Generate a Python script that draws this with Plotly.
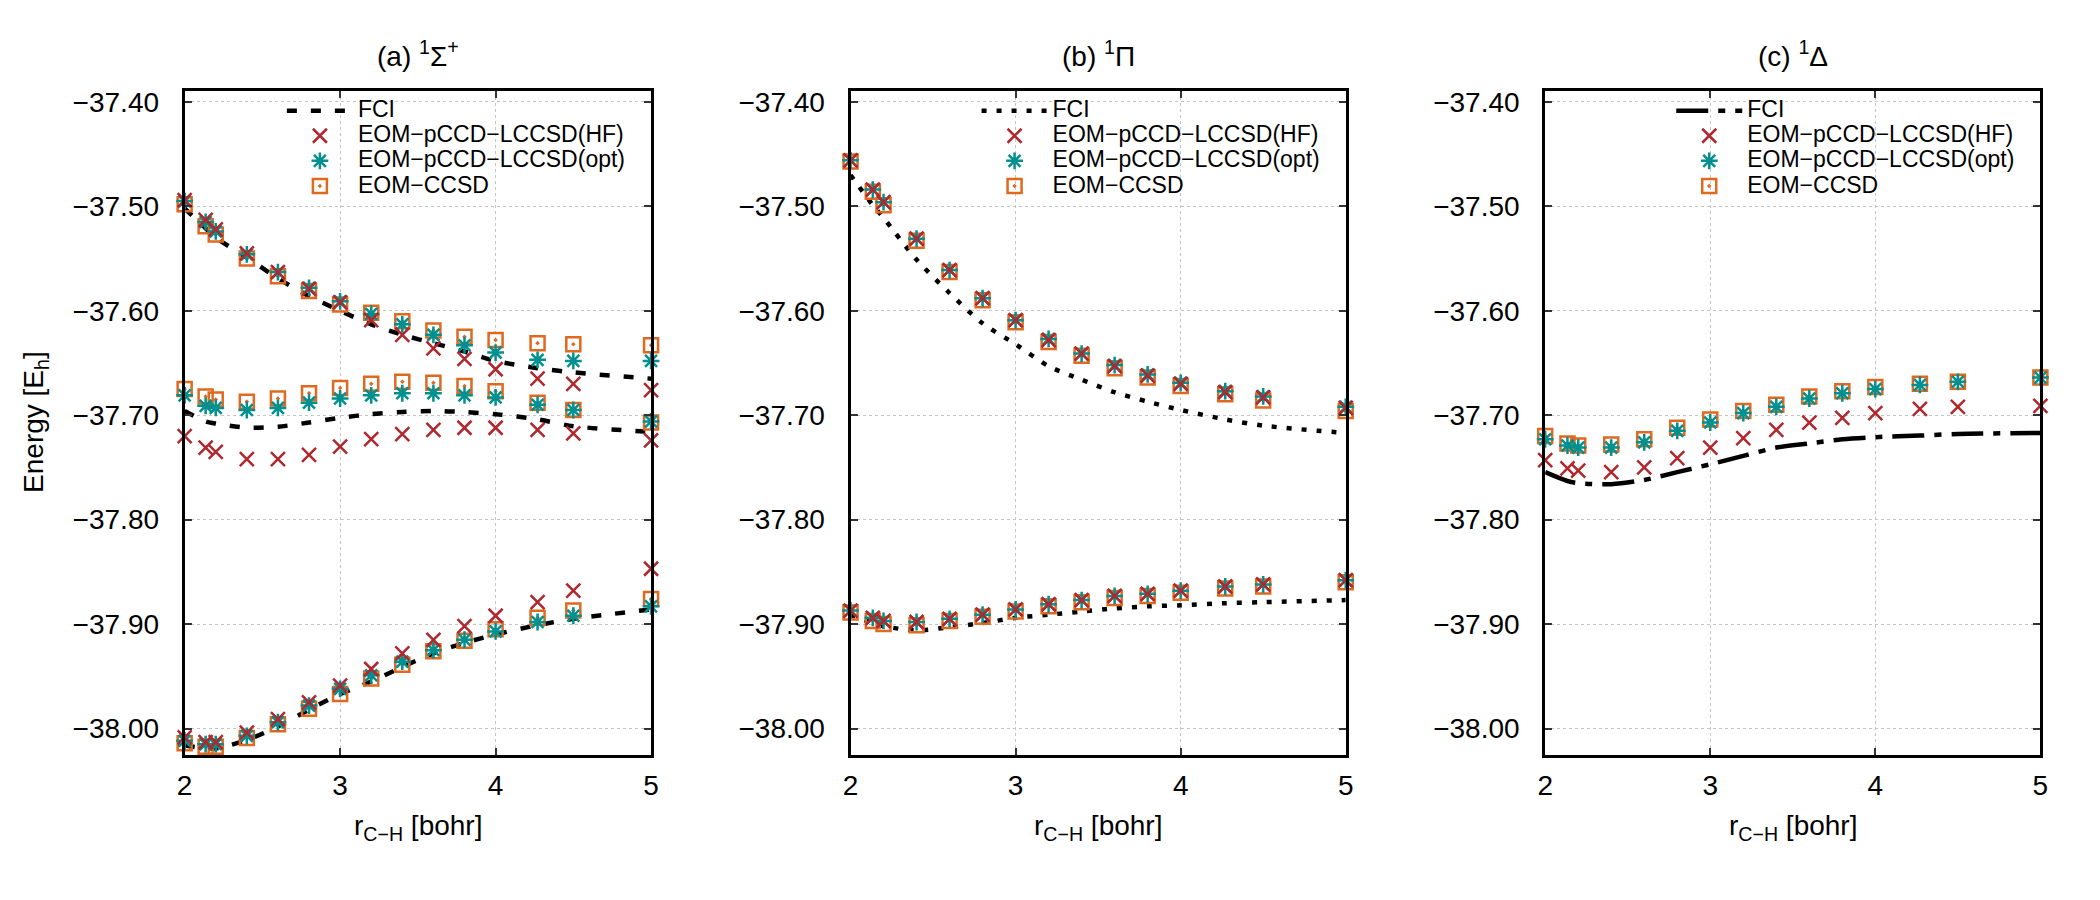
import plotly.graph_objects as go

# ---------------- data ----------------
r = [2.0, 2.135, 2.2, 2.4, 2.6, 2.8, 3.0, 3.2, 3.4, 3.6, 3.8, 4.0, 4.27, 4.5, 5.0]

# (a) 1Sigma+ : three states (upper, middle, lower)
fci_a_up  = [-37.502, -37.521, -37.530, -37.549, -37.569, -37.586, -37.600, -37.613, -37.623, -37.631, -37.639, -37.648, -37.655, -37.659, -37.665]
fci_a_mid = [-37.696, -37.706, -37.708, -37.712, -37.711, -37.707, -37.7025, -37.699, -37.697, -37.696, -37.697, -37.699, -37.704, -37.7105, -37.716]
fci_a_low = [-38.016, -38.019, -38.019, -38.011, -37.998, -37.982, -37.967, -37.955, -37.941, -37.928, -37.918, -37.910, -37.901, -37.895, -37.886]

hf_a_up   = [-37.494, -37.513, -37.522, -37.545, -37.563, -37.579, -37.592, -37.609, -37.623, -37.636, -37.646, -37.656, -37.665, -37.670, -37.676]
hf_a_mid  = [-37.720, -37.731, -37.735, -37.742, -37.742, -37.738, -37.730, -37.723, -37.718, -37.714, -37.712, -37.712, -37.714, -37.7175, -37.724]
hf_a_low  = [-38.0085, -38.013, -38.013, -38.004, -37.991, -37.975, -37.959, -37.943, -37.928, -37.915, -37.902, -37.892, -37.879, -37.868, -37.847]

opt_a_up  = [-37.495, -37.515, -37.524, -37.546, -37.563, -37.578, -37.591, -37.603, -37.613, -37.623, -37.633, -37.640, -37.647, -37.648, -37.648]
opt_a_mid = [-37.681, -37.691, -37.693, -37.695, -37.693, -37.688, -37.684, -37.681, -37.679, -37.679, -37.681, -37.683, -37.690, -37.695, -37.706]
opt_a_low = [-38.0117, -38.015, -38.015, -38.007, -37.994, -37.978, -37.962, -37.949, -37.936, -37.925, -37.915, -37.907, -37.898, -37.892, -37.883]

cc_a_up   = [-37.498, -37.519, -37.527, -37.550, -37.567, -37.581, -37.594, -37.602, -37.610, -37.619, -37.625, -37.628, -37.631, -37.632, -37.633]
cc_a_mid  = [-37.675, -37.682, -37.685, -37.687, -37.684, -37.679, -37.674, -37.670, -37.668, -37.669, -37.672, -37.677, -37.688, -37.695, -37.707]
cc_a_low  = [-38.014, -38.0175, -38.0175, -38.009, -37.996, -37.981, -37.967, -37.952, -37.939, -37.926, -37.916, -37.905, -37.894, -37.887, -37.876]

# (b) 1Pi : two states
fci_b_up  = [-37.470, -37.499, -37.511, -37.551, -37.583, -37.612, -37.632, -37.653, -37.666, -37.678, -37.687, -37.695, -37.704, -37.710, -37.717]
fci_b_low = [-37.891, -37.899, -37.902, -37.906, -37.903, -37.899, -37.894, -37.891, -37.888, -37.885, -37.883, -37.882, -37.880, -37.879, -37.877]

hf_b_up   = [-37.456, -37.484, -37.496, -37.531, -37.561, -37.588, -37.609, -37.628, -37.641, -37.653, -37.662, -37.670, -37.678, -37.683, -37.693]
hf_b_low  = [-37.887, -37.894, -37.897, -37.898, -37.895, -37.891, -37.886, -37.881, -37.877, -37.873, -37.871, -37.868, -37.864, -37.862, -37.858]
opt_b_up  = [-37.456, -37.484, -37.496, -37.531, -37.561, -37.588, -37.609, -37.627, -37.641, -37.652, -37.661, -37.669, -37.677, -37.682, -37.692]
opt_b_low = [-37.887, -37.894, -37.897, -37.898, -37.895, -37.891, -37.886, -37.881, -37.877, -37.873, -37.871, -37.868, -37.864, -37.862, -37.858]
cc_b_up   = [-37.457, -37.486, -37.499, -37.533, -37.563, -37.590, -37.611, -37.630, -37.643, -37.655, -37.664, -37.672, -37.680, -37.686, -37.696]
cc_b_low  = [-37.889, -37.897, -37.900, -37.901, -37.897, -37.893, -37.888, -37.883, -37.879, -37.875, -37.873, -37.870, -37.866, -37.864, -37.860]

# (c) 1Delta : one state
fci_c = [-37.7545, -37.763, -37.765, -37.766, -37.762, -37.7545, -37.747, -37.739, -37.731, -37.727, -37.723, -37.721, -37.7195, -37.718, -37.717]
hf_c  = [-37.743, -37.751, -37.753, -37.7545, -37.750, -37.741, -37.731, -37.722, -37.714, -37.707, -37.7025, -37.698, -37.694, -37.692, -37.691]
opt_c = [-37.723, -37.729, -37.731, -37.731, -37.726, -37.715, -37.707, -37.698, -37.692, -37.684, -37.679, -37.675, -37.671, -37.668, -37.664]
cc_c  = [-37.720, -37.727, -37.729, -37.728, -37.723, -37.712, -37.704, -37.696, -37.690, -37.682, -37.677, -37.673, -37.670, -37.668, -37.664]

panel_titles = ["(a) <sup>1</sup>Σ<sup>+</sup>", "(b) <sup>1</sup>Π", "(c) <sup>1</sup>Δ"]
series_names = ["FCI", "EOM−pCCD−LCCSD(HF)", "EOM−pCCD−LCCSD(opt)", "EOM−CCSD"]
y_ticks = [-38.00, -37.90, -37.80, -37.70, -37.60, -37.50, -37.40]
x_ticks = [2, 3, 4, 5]

panels = [
    dict(fci=[fci_a_up, fci_a_mid, fci_a_low], hf=[hf_a_up, hf_a_mid, hf_a_low],
         opt=[opt_a_up, opt_a_mid, opt_a_low], cc=[cc_a_up, cc_a_mid, cc_a_low], dash="10px,14px"),
    dict(fci=[fci_b_up, fci_b_low], hf=[hf_b_up, hf_b_low],
         opt=[opt_b_up, opt_b_low], cc=[cc_b_up, cc_b_low], dash="5px,10px"),
    dict(fci=[fci_c], hf=[hf_c], opt=[opt_c], cc=[cc_c], dash="32px,10px,7px,10px"),
]

# ---------------- styling ----------------
W, H = 2100, 900
FONT = "Liberation Sans, Arial, sans-serif"
RED, TEAL, ORANGE = "#b0282e", "#00908f", "#e0691f"
frames = [(178, 648), (849, 1348), (1549, 2048)]
y_top_px, y_bot_px = 87.3, 754.0
y_range = [-38.025, -37.3895]
LEG_TXT = 23


def join(states):
    xs, ys = [], []
    for k, s in enumerate(states):
        if k:
            xs.append(None); ys.append(None)
        xs.extend(r); ys.extend(s)
    return xs, ys


def legname(nm):
    return '<span style="font-size:%dpx">%s</span>' % (LEG_TXT, nm)


fig = go.Figure()
layout = dict(width=W, height=H, margin=dict(l=0, r=0, t=0, b=0),
              paper_bgcolor="white", plot_bgcolor="white", showlegend=True,
              font=dict(family=FONT, color="black"))
annotations = []

for i, p in enumerate(panels):
    sfx = "" if i == 0 else str(i + 1)
    xa, ya = "x" + sfx, "y" + sfx
    leg = "legend" + sfx
    x0, x1 = frames[i]

    xs, ys = join(p["fci"])
    fig.add_trace(go.Scatter(x=xs, y=ys, mode="lines", name=legname(series_names[0]),
                             line=dict(color="black", width=4.5, dash=p["dash"], shape="spline", smoothing=0.8),
                             xaxis=xa, yaxis=ya, legend=leg, legendrank=1, connectgaps=False))
    for key, nm, sym, col, rank in [("cc", series_names[3], "square-open-dot", ORANGE, 4),
                                    ("opt", series_names[2], "asterisk-open", TEAL, 3),
                                    ("hf", series_names[1], "x-thin-open", RED, 2)]:
        xs, ys = join(p[key])
        fig.add_trace(go.Scatter(x=xs, y=ys, mode="markers", name=legname(nm), cliponaxis=False,
                                 marker=dict(symbol=sym, size=14, color=col,
                                             line=dict(color=col, width=2.5)),
                                 xaxis=xa, yaxis=ya, legend=leg, legendrank=rank))

    common = dict(showline=True, linewidth=3, linecolor="black", mirror="allticks",
                  ticks="inside", ticklen=7, tickwidth=1.5, tickcolor="#333333",
                  showgrid=True, gridcolor="#c4c4c4", gridwidth=1, griddash="dot",
                  zeroline=False, tickfont=dict(family=FONT, size=28, color="black"))
    layout["xaxis" + sfx] = dict(common, domain=[x0 / W, x1 / W], range=[2, 5],
                                 tickvals=x_ticks, anchor=ya, ticklabelstandoff=4)
    layout["yaxis" + sfx] = dict(common, domain=[1 - y_bot_px / H, 1 - y_top_px / H],
                                 range=y_range, tickvals=y_ticks, tickformat=".2f",
                                 anchor=xa, ticklabelstandoff=17)
    layout[leg] = dict(x=(x1 - 372) / W, y=1 - 89.5 / H, xanchor="left", yanchor="top",
                       bgcolor="rgba(0,0,0,0)", itemwidth=66,
                       font=dict(family=FONT, size=17, color="black"), tracegroupgap=0)

    cx = (x0 + x1) / 2 / W
    annotations.append(dict(text=panel_titles[i], x=cx, y=1 - 50 / H, xref="paper", yref="paper",
                            showarrow=False, font=dict(family=FONT, size=28), xanchor="center", yanchor="middle"))
    annotations.append(dict(text="r<sub>C−H</sub> [bohr]", x=cx, y=1 - 827 / H, xref="paper", yref="paper",
                            showarrow=False, font=dict(family=FONT, size=28), xanchor="center", yanchor="middle"))

annotations.append(dict(text="Energy [E<sub>h</sub>]", x=27 / W, y=1 - 420 / H, xref="paper", yref="paper",
                        showarrow=False, textangle=-90, font=dict(family=FONT, size=28),
                        xanchor="center", yanchor="middle"))
layout["annotations"] = annotations
fig.update_layout(**layout)
fig.write_html("out.html")
